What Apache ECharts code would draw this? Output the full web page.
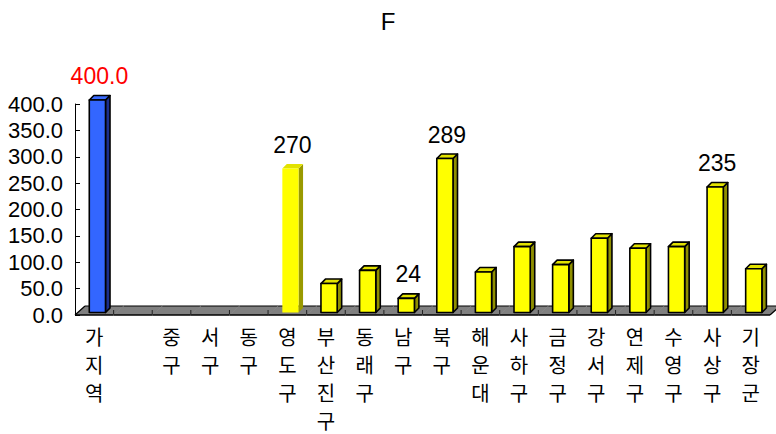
<!DOCTYPE html>
<html><head><meta charset="utf-8">
<script src="https://cdn.jsdelivr.net/npm/echarts@6/dist/echarts.min.js"></script>
<style>html,body{margin:0;padding:0;background:#fff}#c{width:776px;height:434px}</style>
</head><body><div id="c"></div>
<script>
// ---- data ----
const chartTitle = 'F';
const categories = ['가지역', '', '중구', '서구', '동구', '영도구', '부산진구', '동래구', '남구', '북구', '해운대', '사하구', '금정구', '강서구', '연제구', '수영구', '사상구', '기장군'];
const values = [400, null, null, null, null, 270, 52, 77, 24, 289, 74, 122, 88, 138, 119, 122, 235, 80];
const valueLabels = ['400.0', null, null, null, null, '270', null, null, '24', '289', null, null, null, null, null, null, '235', null];
const yMin = 0, yMax = 400, yInterval = 50;

// ---- styles ----
const LATIN = '"Liberation Sans", Arial, sans-serif';
const KOREAN = '"Noto Sans CJK KR", sans-serif';
const STYLE_DEFAULT = { front: '#FFFF00', top: '#E2E200', side: '#8F8F00', stroke: '#000', lw: 1.6, label: '#000' };
const STYLE_OVERRIDE = {
  0: { front: '#3366FF', top: '#3A6BFF', side: '#1C2F8C', stroke: '#000', lw: 1.6, label: '#FF0000' },
  5: { front: '#FFFF00', top: '#E2E200', side: '#999900', stroke: 'none', lw: 0, label: '#000' }
};
function styleFor(i) { return STYLE_OVERRIDE[i] || STYLE_DEFAULT; }

const chart = echarts.init(document.getElementById('c'), null, { renderer: 'svg' });

function renderFloor(params, api) {
  const i = api.value(0);
  const c = api.coord([i, 0]);
  const bw = api.size([1, 0])[0];
  const xl = c[0] - bw / 2, xr = c[0] + bw / 2, y = c[1];
  const FD = 10, FH = 9;
  const ch = [
    { type: 'polygon', shape: { points: [[xl - 0.3, y], [xr + 0.3, y], [xr + FD + 0.3, y - FH], [xl + FD - 0.3, y - FH]] }, style: { fill: '#808080' } },
    { type: 'line', shape: { x1: xl, y1: y, x2: xr, y2: y }, style: { stroke: '#000', lineWidth: 1.5 } },
    { type: 'line', shape: { x1: xl + FD, y1: y - FH, x2: xr + FD, y2: y - FH }, style: { stroke: '#000', lineWidth: 1.2 } }
  ];
  if (i > 0) ch.push({ type: 'line', shape: { x1: xl, y1: y - 5, x2: xl, y2: y - 1 }, style: { stroke: '#222', lineWidth: 1 } });
  if (i === 0) ch.push({ type: 'line', shape: { x1: xl, y1: y, x2: xl + FD, y2: y - FH }, style: { stroke: '#000', lineWidth: 1.2 } });
  if (i === categories.length - 1) ch.push({ type: 'line', shape: { x1: xr, y1: y, x2: xr + FD, y2: y - FH }, style: { stroke: '#000', lineWidth: 1.2 } });
  return { type: 'group', children: ch };
}

function renderBar(params, api) {
  const i = api.value(0), v = api.value(1);
  const base = api.coord([i, 0]);
  const top = api.coord([i, v]);
  const bw = api.size([1, 0])[0];
  const W = bw * 0.42, D = 4.5, SX = bw * 0.08, SY = -2.5;
  const cx = base[0] + SX;
  const x0 = cx - W / 2, x1 = cx + W / 2;
  const yb = base[1] + SY, yt = top[1] + SY - 1.5;
  const st = styleFor(i);
  const sk = { stroke: st.stroke, lineWidth: st.lw, lineJoin: 'round' };
  const ch = [
    { type: 'polygon', shape: { points: [[x1, yb], [x1, yt], [x1 + D, yt - D], [x1 + D, yb - D]] }, style: Object.assign({ fill: st.side }, sk) },
    { type: 'polygon', shape: { points: [[x0, yt], [x1, yt], [x1 + D, yt - D], [x0 + D, yt - D]] }, style: Object.assign({ fill: st.top }, sk) },
    { type: 'rect', shape: { x: x0, y: yt, width: W, height: yb - yt }, style: Object.assign({ fill: st.front }, sk) }
  ];
  const lab = valueLabels[i];
  if (lab) {
    ch.push({ type: 'text', x: cx + 2, y: yt - 24, style: { text: lab, fill: st.label, fontSize: 23, fontFamily: LATIN, align: 'center', verticalAlign: 'middle' } });
  }
  return { type: 'group', children: ch };
}

chart.setOption({
  animation: false,
  backgroundColor: '#fff',
  title: { text: chartTitle, left: 'center', top: 4, textStyle: { fontSize: 24, fontWeight: 'normal', color: '#000', fontFamily: LATIN } },
  grid: { left: 75, right: 6, top: 104, bottom: 117, containLabel: false },
  xAxis: {
    type: 'category', data: categories,
    axisLine: { show: false }, axisTick: { show: false }, splitLine: { show: false },
    axisLabel: {
      interval: 0, margin: 7, color: '#000', fontSize: 20, lineHeight: 28, fontFamily: KOREAN,
      formatter: s => s.split('').join('\n')
    }
  },
  yAxis: {
    type: 'value', min: yMin, max: yMax, interval: yInterval,
    axisLine: { show: true, lineStyle: { color: '#000', width: 1 } },
    axisTick: { show: true, inside: true, length: 5, lineStyle: { color: '#000' } },
    splitLine: { show: false },
    axisLabel: { margin: 12, color: '#000', fontSize: 22, fontFamily: LATIN, formatter: v => v.toFixed(1) }
  },
  series: [
    { type: 'custom', renderItem: renderFloor, data: categories.map((c, i) => [i, 0]), z: 1, silent: true },
    { type: 'custom', renderItem: renderBar, data: values.map((v, i) => [i, v]).filter(d => d[1] != null), z: 2, silent: true }
  ]
});
</script>
</body></html>
